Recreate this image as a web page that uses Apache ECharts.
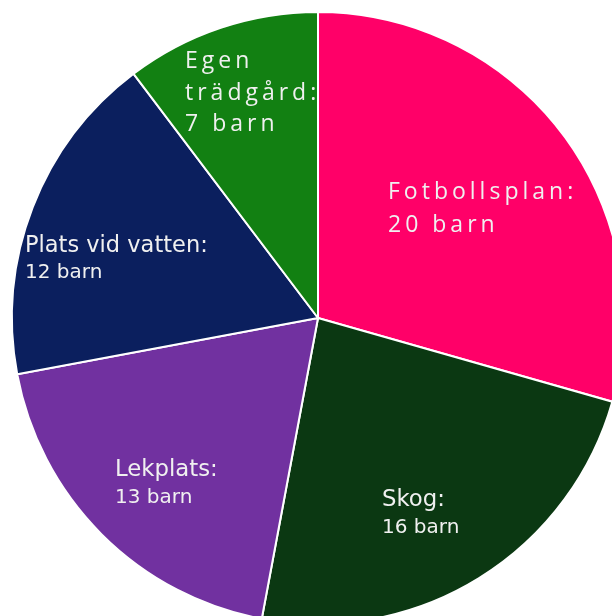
<!DOCTYPE html>
<html><head><meta charset="utf-8">
<script src="https://cdn.jsdelivr.net/npm/echarts@6/dist/echarts.min.js"></script>
<style>html,body{margin:0;padding:0;background:#fff}#c{width:612px;height:616px}</style>
</head><body><div id="c"></div>
<script>
const categories = ['Fotbollsplan', 'Skog', 'Lekplats', 'Plats vid vatten', 'Egen trädgård'];
const values = [20, 16, 13, 12, 7];
const labelLines = [
  ['Fotbollsplan:', '20 barn'],
  ['Skog:', '16 barn'],
  ['Lekplats:', '13 barn'],
  ['Plats vid vatten:', '12 barn'],
  ['Egen', 'trädgård:', '7 barn']
];
const colors = ['#FF0068', '#0B3812', '#7131A0', '#0B1F5E', '#128012'];

// Letter-spaced rendering only for the humanist labels (as in the reference)
const origFill = CanvasRenderingContext2D.prototype.fillText;
CanvasRenderingContext2D.prototype.fillText = function (t, x, y, m) {
  if ('letterSpacing' in this) {
    this.letterSpacing = /Open Sans/.test(this.font) ? '4px' : '0px';
  }
  origFill.call(this, t, x, y, m);
  if ('letterSpacing' in this) this.letterSpacing = '0px';
};

const labelPos = [
  {x: 388, y: 176, fam: 'Open Sans', s1: 23, s2: 23, lh: 33},
  {x: 382, y: 486, fam: 'DejaVu Sans', s1: 22.8, s2: 20, lh: 27.6},
  {x: 115, y: 456, fam: 'DejaVu Sans', s1: 22.8, s2: 20, lh: 27.6},
  {x: 25, y: 233, fam: 'DejaVu Sans', s1: 22.5, s2: 20, lh: 26.6},
  {x: 185, y: 46, fam: 'Open Sans', s1: 23, s2: 23, lh: 31.5}
];

function richFor(i) {
  const p = labelPos[i];
  return {
    a: {fontFamily: p.fam, fontSize: p.s1, lineHeight: p.lh, color: '#F0F0F0'},
    b: {fontFamily: p.fam, fontSize: p.s2, lineHeight: p.lh, color: '#F0F0F0'}
  };
}
function fmtFor(i) {
  const L = labelLines[i];
  return L.map((t, k) => (k === L.length - 1 ? '{b|' : '{a|') + t + '}').join('\n');
}

const chart = echarts.init(document.getElementById('c'), null, {renderer: 'canvas'});
chart.setOption({
  animation: false,
  series: [{
    type: 'pie',
    center: [318, 318],
    radius: 306,
    startAngle: 90,
    clockwise: true,
    itemStyle: {borderColor: '#ffffff', borderWidth: 2},
    data: categories.map((c, i) => ({
      name: c, value: values[i],
      itemStyle: {color: colors[i]},
      label: {formatter: fmtFor(i), rich: richFor(i), fontFamily: labelPos[i].fam, fontSize: labelPos[i].s1}
    })),
    label: {show: true, position: 'inside', color: '#F0F0F0', align: 'left'},
    labelLine: {show: false},
    labelLayout: function (p) {
      const lp = labelPos[p.dataIndex];
      return {x: lp.x, y: lp.y, align: 'left', verticalAlign: 'top'};
    }
  }]
});
</script></body></html>
